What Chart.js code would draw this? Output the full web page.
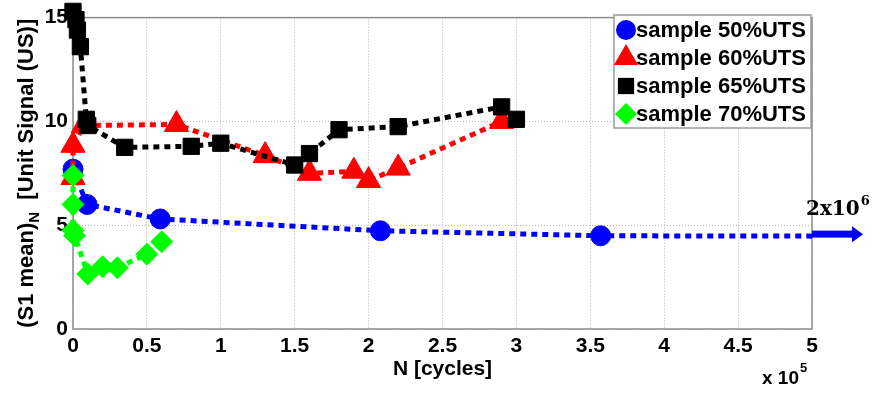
<!DOCTYPE html>
<html>
<head>
<meta charset="utf-8">
<script src="https://cdn.jsdelivr.net/npm/chart.js@4.4.0/dist/chart.umd.min.js"></script>
<style>
  html, body { margin: 0; padding: 0; background: #fff; }
  #wrap { position: relative; width: 881px; height: 394px; }
</style>
</head>
<body>
<div id="wrap"><canvas id="utsChart"></canvas></div>
<script>
// N in units of 1e5 cycles; the last 50%UTS point lies at 2x10^6 (beyond the axis)
const n50 = [0, 0.095, 0.59, 2.08, 3.57, 20];
const s50 = [7.7, 6.0, 5.3, 4.73, 4.49, 4.3];
const n60 = [0, 0, 0.07, 0.7, 1.3, 1.6, 1.9, 2.0, 2.2, 2.9];
const s60 = [7.3, 8.85, 9.8, 9.85, 8.35, 7.5, 7.6, 7.15, 7.75, 10.0];
const n65 = [0, 0.02, 0.03, 0.05, 0.09, 0.1, 0.35, 0.8, 1.0, 1.5, 1.6, 1.8, 2.2, 2.9, 3.0];
const s65 = [15.3, 14.9, 14.4, 13.6, 10.1, 9.8, 8.75, 8.8, 8.95, 7.9, 8.45, 9.6, 9.75, 10.7, 10.1];
const n70 = [0, 0, 0, 0.01, 0.1, 0.2, 0.3, 0.5, 0.6];
const s70 = [7.4, 6.0, 4.75, 4.5, 2.65, 3.0, 2.95, 3.6, 4.2];

const xTicks = [0, 0.5, 1, 1.5, 2, 2.5, 3, 3.5, 4, 4.5, 5];
const yTicks = [0, 5, 10, 15];
const seriesNames = ["sample 50%UTS", "sample 60%UTS", "sample 65%UTS", "sample 70%UTS"];

const FONT = "'Liberation Sans', Arial, Helvetica, sans-serif";

function series(i, xs, ys, color, style, r, clip) {
  return {
    label: seriesNames[i],
    data: xs.map((x, k) => ({ x: x, y: ys[k] })),
    showLine: true,
    borderColor: color,
    backgroundColor: color,
    borderWidth: 5,
    borderDash: [6, 5],
    pointStyle: style,
    pointRadius: r,
    pointBorderColor: color,
    pointBackgroundColor: color,
    pointBorderWidth: 1,
    order: 4 - i,
    clip: clip,
  };
}

// same shapes as Chart.js point styles, for the legend box
function marker(ctx, style, r, x, y, color) {
  ctx.save();
  ctx.fillStyle = color;
  ctx.beginPath();
  if (style === "circle") {
    ctx.arc(x, y, r, 0, Math.PI * 2);
  } else if (style === "triangle") {
    ctx.moveTo(x, y - r);
    ctx.lineTo(x + r * 0.866, y + r / 2);
    ctx.lineTo(x - r * 0.866, y + r / 2);
  } else if (style === "rect") {
    const s = r * Math.SQRT1_2;
    ctx.rect(x - s, y - s, 2 * s, 2 * s);
  } else {
    ctx.moveTo(x, y - r);
    ctx.lineTo(x + r, y);
    ctx.lineTo(x, y + r);
    ctx.lineTo(x - r, y);
  }
  ctx.closePath();
  ctx.fill();
  ctx.restore();
}

const framePlugin = {
  id: "frame",
  beforeDatasetsDraw(chart) {
    const { ctx, chartArea: a } = chart;
    ctx.save();
    ctx.strokeStyle = "#8c8c8c";
    ctx.lineWidth = 1.5;
    ctx.strokeRect(a.left, a.top, a.right - a.left, a.bottom - a.top);
    ctx.restore();
  },
};

const notesPlugin = {
  id: "notes",
  afterDraw(chart) {
    const { ctx, chartArea: a, scales } = chart;
    ctx.save();

    // y title with subscript N, rotated
    ctx.save();
    ctx.translate(33, (a.top + a.bottom) / 2);
    ctx.rotate(-Math.PI / 2);
    ctx.fillStyle = "#000";
    ctx.textBaseline = "alphabetic";
    ctx.textAlign = "left";
    const big = "bold 22px " + FONT, sub = "bold 15px " + FONT;
    ctx.font = big;
    const p1 = "(S1 mean)", p3 = "  [Unit Signal (US)]";
    const w1 = ctx.measureText(p1).width, w3 = ctx.measureText(p3).width;
    ctx.font = sub;
    const w2 = ctx.measureText("N").width;
    let x0 = -(w1 + w2 + w3) / 2;
    ctx.font = big;
    ctx.fillText(p1, x0, 0);
    ctx.font = sub;
    ctx.fillText("N", x0 + w1, 6);
    ctx.font = big;
    ctx.fillText(p3, x0 + w1 + w2, 0);
    ctx.restore();

    // x title and exponent
    ctx.fillStyle = "#000";
    ctx.textAlign = "center";
    ctx.textBaseline = "alphabetic";
    ctx.font = "bold 21px " + FONT;
    ctx.fillText("N [cycles]", (a.left + a.right) / 2, 375);
    ctx.textAlign = "left";
    ctx.font = "bold 19px " + FONT;
    ctx.fillText("x 10", 762, 384);
    const wx = ctx.measureText("x 10").width;
    ctx.font = "bold 13px " + FONT;
    ctx.fillText("5", 762 + wx + 1, 372);

    // arrow toward the 2x10^6 point of the 50%UTS series
    const ds = chart.data.datasets[0].data;
    const p = ds[ds.length - 2], q = ds[ds.length - 1];
    const xm = scales.x.max;
    const yv = p.y + (q.y - p.y) * (xm - p.x) / (q.x - p.x);
    const ya = scales.y.getPixelForValue(yv) - 2;
    ctx.fillStyle = "#0000ff";
    ctx.fillRect(a.right, ya - 3.5, 41, 7);
    ctx.beginPath();
    ctx.moveTo(a.right + 40, ya - 8);
    ctx.lineTo(a.right + 51, ya);
    ctx.lineTo(a.right + 40, ya + 8);
    ctx.closePath();
    ctx.fill();
    ctx.fillStyle = "#000";
    ctx.font = "bold 20px 'DejaVu Serif', 'Liberation Serif', serif";
    ctx.fillText("2x10", 806, 215);
    const w6 = ctx.measureText("2x10").width;
    ctx.font = "bold 13px 'DejaVu Serif', 'Liberation Serif', serif";
    ctx.fillText("6", 806 + w6 + 1, 205);

    // legend
    const lx = 614, ly = 15, lw = 197, lh = 113;
    ctx.fillStyle = "#fff";
    ctx.fillRect(lx, ly, lw, lh);
    ctx.strokeStyle = "#9a9a9a";
    ctx.lineWidth = 1.5;
    ctx.strokeRect(lx, ly, lw, lh);
    ctx.font = "bold 22px " + FONT;
    ctx.textBaseline = "middle";
    ctx.textAlign = "left";
    chart.data.datasets.forEach((d, i) => {
      const cy = ly + 15 + i * 28;
      marker(ctx, d.pointStyle, d.pointRadius, lx + 12, cy, d.backgroundColor);
      ctx.fillStyle = "#000";
      ctx.fillText(d.label, lx + 22, cy + 1);
    });
    ctx.restore();
  },
};

const tickFont = { family: FONT, size: 21, weight: "bold" };

new Chart(document.getElementById("utsChart"), {
  type: "scatter",
  data: {
    datasets: [
      series(0, n50, s50, "#0000ff", "circle", 10, { left: 12, top: 12, right: 0, bottom: 12 }),
      series(1, n60, s60, "#ff0000", "triangle", 14, false),
      series(2, n65, s65, "#000000", "rect", 11.5, false),
      series(3, n70, s70, "#00ff00", "rectRot", 11, false),
    ],
  },
  options: {
    responsive: true,
    maintainAspectRatio: false,
    animation: false,
    events: [],
    layout: { padding: { top: 12, right: 69, left: 0, bottom: 0 } },
    plugins: { legend: { display: false }, tooltip: { enabled: false } },
    scales: {
      x: {
        type: "linear",
        min: 0,
        max: 5,
        afterBuildTicks: (s) => { s.ticks = xTicks.map((v) => ({ value: v })); },
        afterFit: (s) => { s.height = 65; },
        ticks: { font: tickFont, color: "#000", padding: 5, maxRotation: 0, callback: (v) => String(v) },
        grid: { color: "#b4b4b4", lineWidth: 1, drawTicks: false },
        border: { display: false, dash: [1, 2] },
      },
      y: {
        type: "linear",
        min: 0,
        max: 15,
        afterBuildTicks: (s) => { s.ticks = yTicks.map((v) => ({ value: v })); },
        afterFit: (s) => { s.width = 73; },
        ticks: { font: tickFont, color: "#000", padding: 5, callback: (v) => String(v) },
        grid: { color: "#b4b4b4", lineWidth: 1, drawTicks: false },
        border: { display: false, dash: [1, 2] },
      },
    },
  },
  plugins: [framePlugin, notesPlugin],
});
</script>
</body>
</html>
